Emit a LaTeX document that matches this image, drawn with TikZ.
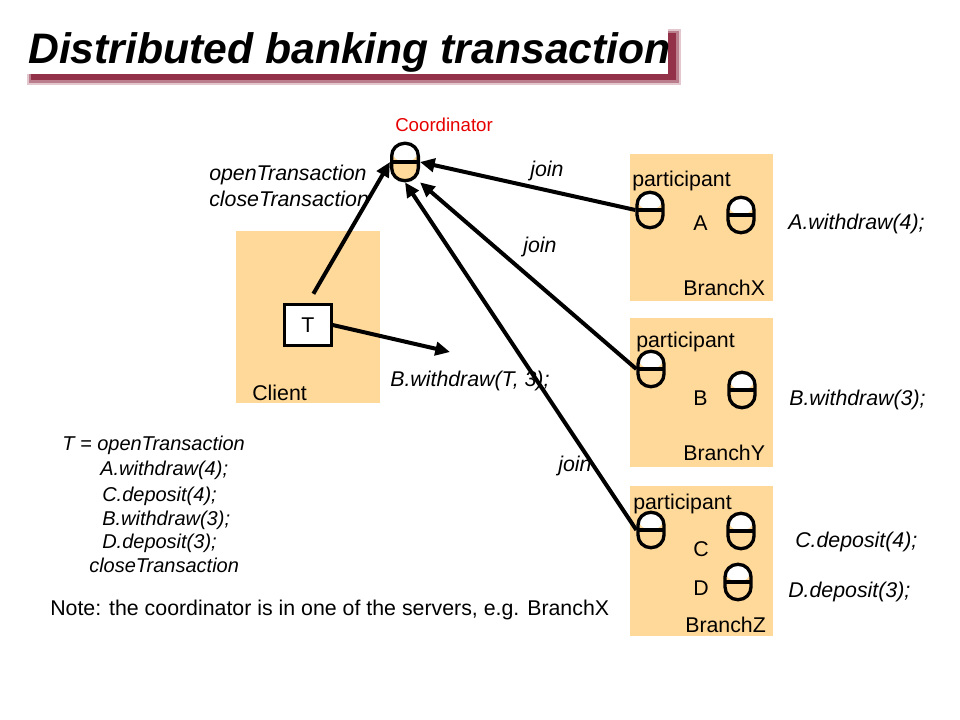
\documentclass[tikz,border=0pt]{standalone}
\usepackage{fontspec}
\setmainfont{Liberation Sans}
\usetikzlibrary{arrows.meta}
\definecolor{peach}{RGB}{255,217,153}
\definecolor{coordred}{RGB}{230,0,0}
\definecolor{titleshadow}{RGB}{140,35,60}

\tikzset{
	pill/.style={draw, line width=2.5pt, rounded corners=9.5pt, minimum width=19.5pt, minimum height=26.5pt, inner sep=0pt,
		path picture={\fill[white] (path picture bounding box.north west) rectangle (path picture bounding box.east);
			\draw[line width=2.5pt] (path picture bounding box.west) -- (path picture bounding box.east);}},
	msg/.style={font=\fontsize{16}{19}\selectfont\itshape, anchor=base west, inner sep=0pt},
	code/.style={font=\fontsize{15}{18}\selectfont\itshape, anchor=base west, inner sep=0pt},
	lbl/.style={font=\fontsize{16}{19}\selectfont, anchor=base west, inner sep=0pt},
	arr/.style={line width=3pt, -{Triangle[length=11pt,width=10pt]}},
}

\begin{document}
\begin{tikzpicture}[x=0.75pt,y=-0.75pt]
	\useasboundingbox (0,0) rectangle (960,720);
	% title
	\fill[titleshadow, opacity=.25] (27,29) rectangle (681,85);
	\fill[titleshadow, opacity=.45] (29,31) rectangle (679,83);
	\fill[titleshadow, opacity=.85] (31,33) rectangle (676,80);
	\fill[white] (22,24) rectangle (668,74);
	\node[font=\fontsize{32}{38}\selectfont\bfseries\itshape, anchor=base west, inner sep=0pt] (title) at (28,64) {Distributed banking transaction};

	% client
	\fill[peach] (236,231) rectangle (380,403);
	\node[lbl] (client) at (252,400) {Client};
	\node[draw, fill=white, line width=2pt, minimum width=35pt, minimum height=31pt, font=\fontsize{16}{19}\selectfont] (T) at (308,325) {T};
	\coordinate (bcall) at (450,352);

	% coordinator
	\node[pill, fill=peach, minimum width=20pt, minimum height=28pt] (coord) at (405,162) {};
	\node[font=\fontsize{14}{17}\selectfont, text=coordred, anchor=base west, inner sep=0pt] (coordlbl) at (395,132) {Coordinator};
	\node[msg] (open) at (209,181) {openTransaction};
	\node[msg] (close) at (209,207) {closeTransaction};

	% branches
	\fill[peach] (630,154) rectangle (773,301);
	\fill[peach] (630,318) rectangle (773,467);
	\fill[peach] (630,486) rectangle (773,636);
	\node[lbl] (partX) at (632,187) {participant};
	\node[lbl] (partY) at (636,347) {participant};
	\node[lbl] (partZ) at (633,509) {participant};
	\node[lbl] (nameA) at (693,231) {A};
	\node[lbl] (nameB) at (693,405) {B};
	\node[lbl] (nameC) at (693,556) {C};
	\node[lbl] (nameD) at (693,595) {D};
	\node[lbl] (branchX) at (683,296) {BranchX};
	\node[lbl] (branchY) at (683,460) {BranchY};
	\node[lbl] (branchZ) at (685,632) {BranchZ};
	\node[pill] (pXa) at (650,210) {};
	\node[pill] (pXb) at (741,215) {};
	\node[pill] (pYa) at (651,369) {};
	\node[pill] (pYb) at (742,390) {};
	\node[pill] (pZa) at (651,530) {};
	\node[pill] (pZb) at (741,531) {};
	\node[pill] (pZc) at (738,582) {};
	\node[msg] (opA) at (788,230) {A.withdraw(4);};
	\node[msg] (opB) at (789,405) {B.withdraw(3);};
	\node[msg] (opC) at (795,547) {C.deposit(4);};
	\node[msg] (opD) at (788,597) {D.deposit(3);};

	% arrows
	\draw[arr, shorten <=8pt] (T.north) -- (coord.west);
	\draw[arr] (T.east) -- (bcall);
	\draw[arr] (pXa.west) -- (coord.east);
	\draw[arr] (pYa.west) -- (coord.south east);
	\draw[arr] (pZa.west) -- (coord.south);
	\node[msg] (join1) at (530,177) {join};
	\node[msg] (join2) at (523,253) {join};
	\node[msg] (join3) at (558,471) {join};
	\node[msg] (bmsg) at (390,386) {B.withdraw(T, 3);};

	% transaction
	\node[code] (c1) at (62,450) {T = openTransaction};
	\node[code] (c2) at (100,475) {A.withdraw(4);};
	\node[code] (c3) at (102,501) {C.deposit(4);};
	\node[code] (c4) at (102,525) {B.withdraw(3);};
	\node[code] (c5) at (102,548) {D.deposit(3);};
	\node[code] (c6) at (89,572) {closeTransaction};
	\node[lbl] (note) at (50,615) {Note: the coordinator is in one of the servers, e.g. BranchX};
\end{tikzpicture}
\end{document}
